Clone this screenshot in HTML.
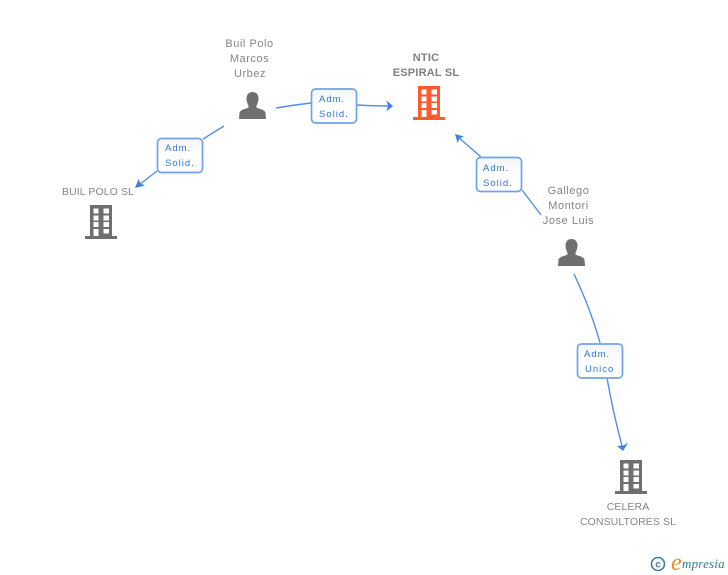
<!DOCTYPE html>
<html><head><meta charset="utf-8"><style>
html,body{margin:0;padding:0;background:#fff}
svg{display:block}
text{font-family:"Liberation Sans",sans-serif}
.n{font-size:11px;fill:#858585;text-anchor:middle;letter-spacing:.55px}
.c{font-size:10.5px;fill:#858585;text-anchor:middle;letter-spacing:.1px}
.b{font-size:11px;font-weight:bold;fill:#808080;text-anchor:middle;letter-spacing:.2px}
.a{font-size:9.5px;fill:#2f74d8;letter-spacing:1px}
.l{fill:none;stroke:#4f8fe6;stroke-width:1.4}
.r{fill:url(#g);stroke:#6ea4ea;stroke-width:1.7}
</style></head><body>
<svg width="728" height="575" viewBox="0 0 728 575" xmlns="http://www.w3.org/2000/svg">
<defs>
<linearGradient id="g" x1="0" y1="0" x2="0" y2="1"><stop offset="0" stop-color="#f3f5f8"/><stop offset=".5" stop-color="#fff"/></linearGradient>
<g id="bld">
<path fill-rule="evenodd" d="M5 0H27V31H32V34H0V31H5ZM8.500 3.500V8.500H13.500V3.500ZM18.500 3.500V8.500H24V3.500ZM8.500 10.500V15.500H13.500V10.500ZM18.500 10.500V15.500H24V10.500ZM8.500 17V22H13.500V17ZM18.500 17V22H24V17ZM8.500 24V31H13.500V24ZM18.500 24V28.500H24V24Z"/>
</g>
<g id="per"><path d="M13.500 0C17.500 0 19.500 3 19.500 6.500C19.500 10 18 12.500 17.500 14V15.500C19.500 17 25 17 26.500 20.500L27 27H0L.5 20.500C2 17 7.500 17 9.500 15.500V14C9 12.500 7.500 10 7.500 6.500C7.500 3 9.500 0 13.500 0Z"/></g>
</defs>
<path class="l" d="M276 108Q293 105 311 103"/>
<path class="l" d="M357 105Q372 106 388 106"/>
<path d="M393 106L386.500 100.500L388 106L386.500 111.500Z" fill="#3d82e2"/>
<path class="l" d="M224 126L203 139"/>
<path class="l" d="M157 171L139 185"/>
<path d="M135 188L138.500 179L140.500 183.500L145 185.500Z" fill="#3d82e2"/>
<path class="l" d="M541 215Q532 203 522 190"/>
<path class="l" d="M481 157L458 137"/>
<path d="M455 134L464 136.500L459.500 138.500L457.500 143Z" fill="#3d82e2"/>
<path class="l" d="M574 274Q591 310 600 343"/>
<path class="l" d="M607 378Q613 412 622 446"/>
<path d="M623 451L628 443L623 445.500L617 446Z" fill="#3d82e2"/>

<use href="#per" x="239" y="92" fill="#6f6f6f"/>
<use href="#per" x="558" y="239" fill="#6f6f6f"/>
<use href="#bld" x="413" y="86" fill="#ff5a2c"/>
<use href="#bld" x="85" y="205" fill="#6f6f6f"/>
<use href="#bld" x="615" y="460" fill="#6f6f6f"/>

<text class="n" x="249.500" y="47">Buil Polo</text>
<text class="n" x="249.500" y="62">Marcos</text>
<text class="n" x="250" y="77">Urbez</text>
<text class="b" x="426" y="61">NTIC</text>
<text class="b" x="426" y="76">ESPIRAL SL</text>
<text class="c" x="98" y="195">BUIL POLO SL</text>
<text class="n" x="568.500" y="194">Gallego</text>
<text class="n" x="568.500" y="209">Montori</text>
<text class="n" x="568.500" y="224">Jose Luis</text>
<text class="c" x="628" y="510">CELERA</text>
<text class="c" x="628" y="525">CONSULTORES SL</text>

<rect class="r" x="311.500" y="89" width="45" height="34" rx="4"/>
<text class="a" x="319" y="102">Adm.</text><text class="a" x="319" y="117">Solid.</text>
<rect class="r" x="157.500" y="138.500" width="45" height="34" rx="4"/>
<text class="a" x="165" y="151">Adm.</text><text class="a" x="165" y="166">Solid.</text>
<rect class="r" x="476.500" y="157.500" width="45" height="34" rx="4"/>
<text class="a" x="483" y="171">Adm.</text><text class="a" x="483" y="186">Solid.</text>
<rect class="r" x="577.500" y="344" width="45" height="34" rx="4"/>
<text class="a" x="584" y="357">Adm.</text><text class="a" x="585" y="372">Unico</text>

<circle cx="658" cy="564" r="6.500" fill="none" stroke="#3f8296" stroke-width="1.600"/>
<text x="658" y="567.500" text-anchor="middle" style="font-size:10px;font-weight:bold;fill:#3f8296">c</text>
<text x="671" y="570" style="font-family:'Liberation Serif',serif;font-style:italic;font-size:24px;fill:#f08a1d">e</text>
<text x="682" y="568" style="font-family:'Liberation Serif',serif;font-style:italic;font-size:13px;fill:#2f7f96;letter-spacing:.2px">mpresia</text>
</svg>
</body></html>
